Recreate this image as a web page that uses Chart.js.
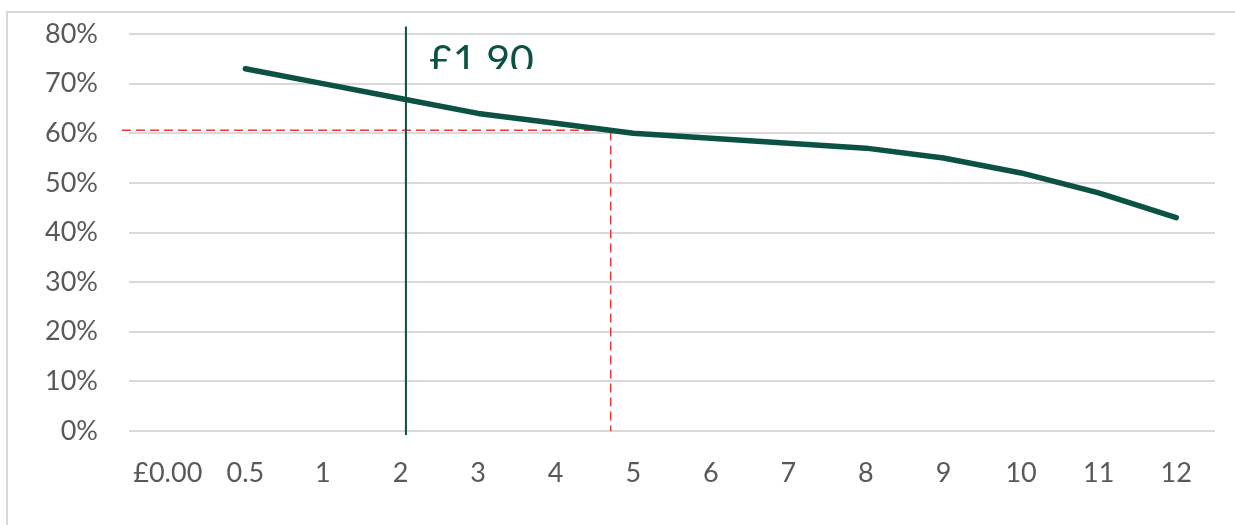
<!DOCTYPE html>
<html>
<head>
<meta charset="utf-8">
<script src="https://cdn.jsdelivr.net/npm/chart.js@4/dist/chart.umd.min.js"></script>
<style>
  html, body { margin: 0; padding: 0; background: #ffffff; overflow: hidden; }
  #wrap { position: relative; width: 1235px; height: 525px; }
  #frame { position: absolute; left: 6px; top: 11px; width: 1300px; height: 600px;
           border: 2px solid #d9d9d9; box-sizing: border-box; pointer-events: none; }
  canvas { position: absolute; left: 0; top: 0; }
</style>
</head>
<body>
<div id="wrap">
  <div id="frame"></div>
  <canvas id="chart" width="1235" height="525"></canvas>
</div>
<script>
// Category labels along the bottom axis
const categories = ['£0.00', '0.5', '1', '2', '3', '4', '5', '6', '7', '8', '9', '10', '11', '12'];
// Share (%) for each category; no value at £0.00
const shareValues = [null, 73, 70, 67, 64, 62, 60, 59, 58, 57, 55, 52, 48, 43];
// Y-axis tick values (%)
const yTicks = [0, 10, 20, 30, 40, 50, 60, 70, 80];

// Price marker (position on the category axis) and its caption
const markerX = 3.07;
const markerSpan = [-0.8, 81.5];
const markerCaption = '£1.90';
// Read-off guide: level and position where the curve crosses it
const guideY = 60.6;
const guideX = 5.71;
const guideStartX = -0.59;

const lineColor = '#0b5244';
const fontFamily = 'Lato, "Open Sans", sans-serif';

const seriesPoints = shareValues
  .map((v, i) => (v === null ? null : { x: i, y: v }))
  .filter(p => p !== null);

const captionPlugin = {
  id: 'markerCaption',
  afterDatasetsDraw(chart) {
    const ctx = chart.ctx;
    const xs = chart.scales.x;
    const px = xs.getPixelForValue(markerX) + 23;
    ctx.save();
    ctx.beginPath();
    ctx.rect(px - 5, 30, 200, 39);
    ctx.clip();
    ctx.fillStyle = lineColor;
    ctx.font = '41px ' + fontFamily;
    ctx.textAlign = 'left';
    ctx.textBaseline = 'alphabetic';
    ctx.fillText(markerCaption, px, 74);
    ctx.restore();
  }
};

new Chart(document.getElementById('chart'), {
  type: 'line',
  data: {
    datasets: [
      {
        data: seriesPoints,
        borderColor: lineColor,
        borderWidth: 5.5,
        borderCapStyle: 'round',
        borderJoinStyle: 'round',
        pointRadius: 0,
        tension: 0,
        fill: false,
        order: 1
      },
      {
        data: [{ x: markerX, y: markerSpan[0] }, { x: markerX, y: markerSpan[1] }],
        borderColor: '#0b4f42',
        borderWidth: 2,
        pointRadius: 0,
        clip: false,
        order: 2
      },
      {
        data: [{ x: guideStartX, y: guideY }, { x: guideX, y: guideY }, { x: guideX, y: 0 }],
        borderColor: '#e8393b',
        borderWidth: 1.5,
        borderDash: [9, 5],
        pointRadius: 0,
        clip: false,
        order: 3
      }
    ]
  },
  plugins: [captionPlugin],
  options: {
    responsive: false,
    animation: false,
    events: [],
    layout: { padding: { top: 34, right: 20, left: 0, bottom: 0 } },
    plugins: {
      legend: { display: false },
      tooltip: { enabled: false }
    },
    scales: {
      x: {
        type: 'linear',
        min: -0.5,
        max: categories.length - 0.5,
        afterBuildTicks(scale) {
          scale.ticks = categories.map((_, i) => ({ value: i }));
        },
        afterFit(scale) {
          scale.height = 94;
          scale.paddingLeft = 0;
          scale.paddingRight = 0;
        },
        grid: { display: false, drawTicks: false },
        border: { display: false },
        ticks: {
          autoSkip: false,
          maxRotation: 0,
          padding: 26,
          color: '#595959',
          font: { family: fontFamily, size: 27 },
          callback: v => categories[v]
        }
      },
      y: {
        min: 0,
        max: 80,
        afterBuildTicks(scale) {
          scale.ticks = yTicks.map(v => ({ value: v }));
        },
        afterFit(scale) {
          scale.width = 129;
          scale.paddingTop = 0;
          scale.paddingBottom = 0;
        },
        grid: { color: '#d9d9d9', lineWidth: 2, drawTicks: false },
        border: { display: false },
        ticks: {
          padding: 31,
          color: '#595959',
          font: { family: fontFamily, size: 27 },
          callback: v => v + '%'
        }
      }
    }
  }
});
</script>
</body>
</html>
